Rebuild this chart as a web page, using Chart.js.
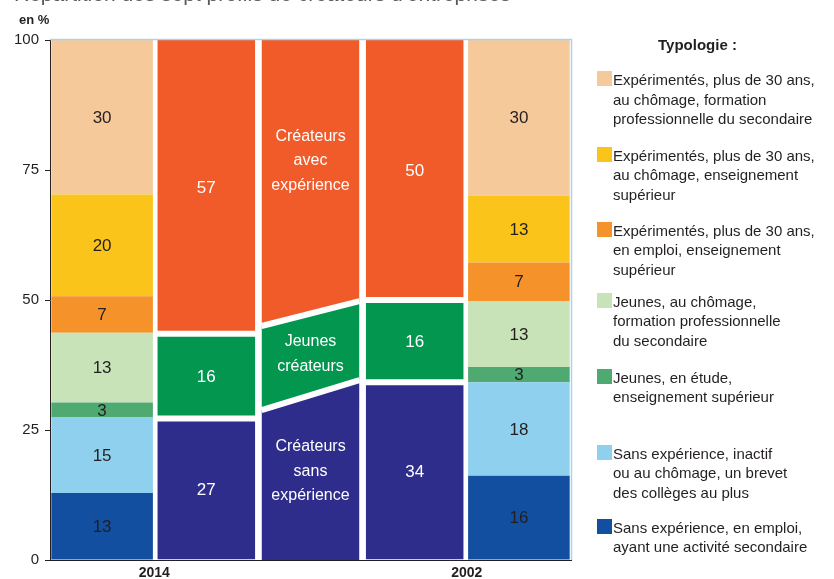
<!DOCTYPE html>
<html lang="fr">
<head>
<meta charset="utf-8">
<script src="https://cdn.jsdelivr.net/npm/chart.js@4.4.0/dist/chart.umd.min.js"></script>
<style>
body{margin:0;background:#fff;font-family:"Liberation Sans",Arial,sans-serif;}
#wrap{position:relative;width:834px;height:579px;overflow:hidden;}
#title{position:absolute;left:14px;top:-18px;font-size:21px;color:#58595b;white-space:nowrap;}
#unit{position:absolute;left:19px;top:12px;font-size:13px;font-weight:bold;color:#231f20;}
#legend{position:absolute;left:597px;top:0;width:237px;height:579px;color:#231f20;}
#legend .head{position:absolute;left:61px;top:36px;font-size:15px;font-weight:bold;}
#legend .item{position:absolute;left:0;font-size:15px;line-height:19.5px;white-space:pre;}
#legend .sw{position:absolute;left:0;top:1px;width:15px;height:15px;}
#legend .txt{position:absolute;left:16px;top:0;}
</style>
</head>
<body>
<div id="wrap">
  <canvas id="chart" width="834" height="579"></canvas>
  <div id="title">Répartition des sept profils de créateurs d'entreprises</div>
  <div id="unit">en %</div>
  <div id="legend"><div class="head">Typologie :</div></div>
</div>
<script>
// columns: detail 2014 | grouped 2014 | transition | grouped 2002 | detail 2002
const columns = ['2014 détail', '2014', 'évolution', '2002', '2002 détail'];
const years = ['2014', '2002'];
const yTicks = [0, 25, 50, 75, 100];

// seven profiles, bottom of the stack first
const typologie = [
    'Sans expérience, en emploi,\nayant une activité secondaire',
    'Sans expérience, inactif\nou au chômage, un brevet\ndes collèges au plus',
    'Jeunes, en étude,\nenseignement supérieur',
    'Jeunes, au chômage,\nformation professionnelle\ndu secondaire',
    'Expérimentés, plus de 30 ans,\nen emploi, enseignement\nsupérieur',
    'Expérimentés, plus de 30 ans,\nau chômage, enseignement\nsupérieur',
    'Expérimentés, plus de 30 ans,\nau chômage, formation\nprofessionnelle du secondaire'
];
const detail2014 = [12.9, 14.5, 2.9, 13.4, 7.0, 19.6, 29.7];
const detail2002 = [16.2, 18.0, 2.9, 12.7, 7.4, 12.9, 29.9];

// three groups, bottom first
const groupes = ['Créateurs\nsans\nexpérience', 'Jeunes\ncréateurs', 'Créateurs\navec\nexpérience'];
const groupes2014 = [27.2, 16.3, 56.5];
const groupes2002 = [34.2, 15.8, 50.0];
const transition2014 = [28.8, 16.2, 55.0];
const transition2002 = [34.6, 15.2, 50.2];

const detailColors = ['#124fa0', '#8fd0ee', '#4faa72', '#c9e3b8', '#f5922a', '#fbc41a', '#f6c99b'];
const groupColors = ['#2e2d8c', '#03964e', '#f15a29'];
const legendTops = [517.5, 443.5, 367.5, 291.5, 220.5, 145.5, 70];
const groupLabelDy = [-6, 0, -16];
const TRANS_COL = 2;
const TRANS_HALF = 0.47;
const FONT = '"Liberation Sans", Arial, sans-serif';

const datasets = [];

typologie.forEach((name, i) => {
    datasets.push({
        label: name,
        data: [detail2014[i], null, null, null, detail2002[i]],
        backgroundColor: detailColors[i],
        borderWidth: 0,
        grouped: false,
        stack: 'cols',
        barPercentage: 0.975,
        labelColor: '#231f20'
    });
});

groupes.forEach((name, i) => {
    datasets.push({
        label: name,
        data: [null, groupes2014[i], null, groupes2002[i], null],
        backgroundColor: groupColors[i],
        borderColor: '#ffffff',
        borderWidth: {top: i < groupes.length - 1 ? 3 : 0, bottom: i > 0 ? 3 : 0, left: 0, right: 0},
        borderSkipped: false,
        grouped: false,
        stack: 'cols',
        barPercentage: 0.94,
        labelColor: '#ffffff'
    });
});

// transition column: stacked filled lines on a linear x axis
groupes.forEach((name, i) => {
    datasets.push({
        type: 'line',
        label: name,
        xAxisID: 'x2',
        data: [
            {x: TRANS_COL - TRANS_HALF, y: transition2014[i]},
            {x: TRANS_COL + TRANS_HALF, y: transition2002[i]}
        ],
        borderColor: '#ffffff',
        borderWidth: i < groupes.length - 1 ? 6 : 0,
        backgroundColor: groupColors[i],
        fill: i === 0 ? 'origin' : '-1',
        pointRadius: 0,
        tension: 0,
        transition: true,
        labelDy: groupLabelDy[i]
    });
});

// value labels in segments and text in the transition column
const segmentLabels = {
    id: 'segmentLabels',
    afterDatasetsDraw(chart) {
        const ctx = chart.ctx;
        ctx.save();
        ctx.textAlign = 'center';
        ctx.textBaseline = 'middle';
        chart.data.datasets.forEach((ds, i) => {
            const meta = chart.getDatasetMeta(i);
            if (ds.transition) {
                const prev = i > 0 && chart.data.datasets[i - 1].transition ? chart.getDatasetMeta(i - 1).data : null;
                const base = chart.scales.y.getPixelForValue(0);
                const pts = meta.data;
                let cx = 0, cy = 0;
                pts.forEach((p, k) => {
                    const low = prev ? prev[k].y : base;
                    cx += p.x / pts.length;
                    cy += (p.y + low) / 2 / pts.length;
                });
                cy += ds.labelDy;
                const lines = ds.label.split('\n');
                ctx.fillStyle = '#ffffff';
                ctx.font = '16px ' + FONT;
                lines.forEach((t, k) => {
                    ctx.fillText(t, cx, cy + (k - (lines.length - 1) / 2) * 24.5);
                });
                return;
            }
            meta.data.forEach((bar, j) => {
                const v = ds.data[j];
                if (v == null) return;
                ctx.fillStyle = ds.labelColor;
                ctx.font = '17px ' + FONT;
                ctx.fillText(Math.round(v), bar.x, (bar.y + bar.base) / 2 + 1);
            });
        });
        ctx.restore();
    }
};

// light blue frame on top and right of the plot
const frame = {
    id: 'frame',
    afterDraw(chart) {
        const {ctx, chartArea: a} = chart;
        ctx.save();
        ctx.strokeStyle = '#a9d4ef';
        ctx.lineWidth = 1.5;
        ctx.beginPath();
        ctx.moveTo(a.left, a.top - 0.5);
        ctx.lineTo(a.right + 0.5, a.top - 0.5);
        ctx.lineTo(a.right + 0.5, a.bottom);
        ctx.stroke();
        ctx.restore();
    }
};

const chart = new Chart(document.getElementById('chart'), {
    type: 'bar',
    data: {
        labels: columns,
        datasets: datasets
    },
    options: {
        responsive: false,
        animation: false,
        categoryPercentage: 1,
        layout: {padding: {top: 40, right: 263, left: 0, bottom: 0}},
        plugins: {
            legend: {display: false},
            tooltip: {enabled: false}
        },
        scales: {
            x: {
                stacked: true,
                display: false
            },
            x2: {
                type: 'linear',
                position: 'bottom',
                offset: false,
                min: -0.5,
                max: columns.length - 0.5,
                grid: {display: false, drawTicks: false, offset: false},
                border: {display: true, color: '#231f20', width: 1},
                afterBuildTicks(axis) {
                    axis.ticks = [0.5, 3.5].map(v => ({value: v}));
                },
                afterFit(scale) { scale.height = 19; },
                ticks: {
                    padding: 5,
                    color: '#231f20',
                    font: {family: FONT, size: 14, weight: 'bold'},
                    callback: (v) => years[v < 2 ? 0 : 1]
                }
            },
            y: {
                stacked: true,
                min: 0,
                max: 100,
                afterBuildTicks(axis) {
                    axis.ticks = yTicks.map(v => ({value: v}));
                },
                afterFit(scale) { scale.width = 50; },
                grid: {drawOnChartArea: false, tickLength: 5, color: '#231f20'},
                border: {display: true, color: '#231f20', width: 1},
                ticks: {
                    padding: 6,
                    color: '#231f20',
                    font: {family: FONT, size: 15}
                }
            }
        }
    },
    plugins: [segmentLabels, frame]
});

// html legend for the seven profiles, top of the stack first
const legend = document.getElementById('legend');
typologie.forEach((name, i) => {
    const item = document.createElement('div');
    item.className = 'item';
    item.style.top = legendTops[i] + 'px';
    item.innerHTML = '<div class="sw" style="background:' + detailColors[i] + '"></div><div class="txt"></div>';
    item.querySelector('.txt').textContent = name;
    legend.appendChild(item);
});
</script>
</body>
</html>
